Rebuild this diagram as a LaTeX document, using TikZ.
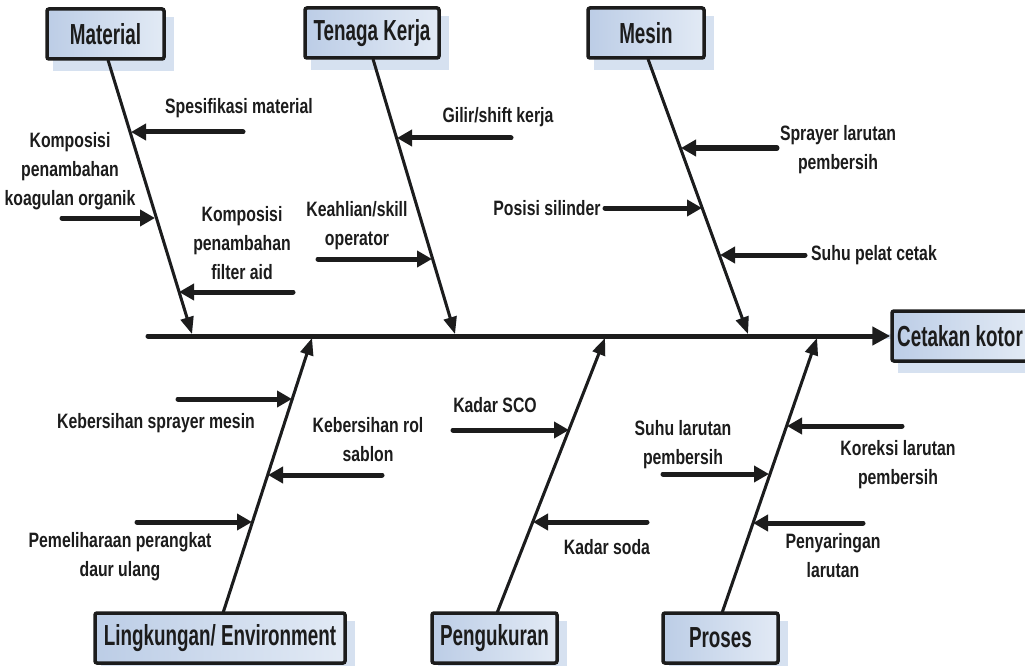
\documentclass[tikz,border=0pt]{standalone}
\usepackage{fontspec}
\setmainfont{Liberation Sans}[FakeStretch=0.76]
\newfontfamily\boxfont{Liberation Sans}[FakeStretch=0.65]
\usetikzlibrary{arrows.meta,backgrounds,calc}
\definecolor{shad}{RGB}{214,225,240}
\definecolor{boxA}{RGB}{188,205,230}
\definecolor{boxB}{RGB}{226,234,245}
\definecolor{ink}{RGB}{28,28,28}
\tikzset{
  lbl/.style={font=\fontsize{20.8}{29}\selectfont\bfseries, text=ink, align=center, inner sep=0pt},
  cat/.style={draw=ink, line width=3.5pt, rounded corners=2pt, left color=boxA, right color=boxB,
    font=\boxfont\fontsize{29}{30}\selectfont\bfseries, text=ink, inner sep=0pt, minimum height=50pt},
  bone/.style={draw=ink, line width=3pt, -{Triangle[length=17pt,width=13pt]}},
  spine/.style={draw=ink, line width=5pt, line cap=round, -{Triangle[length=18pt,width=18pt]}},
  sub/.style={draw=ink, line width=5pt, line cap=round, -{Triangle[length=15pt,width=16pt]}},
  bshd/.style={draw=shad, line width=3pt, -{Triangle[length=17pt,width=13pt]}},
  sshd/.style={draw=shad, line width=5pt, line cap=round}
}
\begin{document}
\begin{tikzpicture}[x=1pt,y=-1pt]
\useasboundingbox (0,0) rectangle (1025,666);

% category boxes
\node[cat, minimum width=117pt] (mat) at (105.5,34) {Material};
\node[cat, minimum width=134pt] (ten) at (372,33) {Tenaga Kerja};
\node[cat, minimum width=116pt] (mes) at (646,33) {Mesin};
\node[cat, minimum width=136pt] (cet) at (960,336) {Cetakan kotor};
\node[cat, minimum width=250pt] (lin) at (220,638) {Lingkungan/ Environment};
\node[cat, minimum width=125pt] (pen) at (494.5,638) {Pengukuran};
\node[cat, minimum width=115pt] (pro) at (720.5,638) {Proses};

% bone end points
\coordinate (matS) at (108,60);  \coordinate (matT) at (192,334);
\coordinate (tenS) at (373,59);  \coordinate (tenT) at (455,334);
\coordinate (mesS) at (648,59);  \coordinate (mesT) at (748,334);
\coordinate (linS) at (223,613); \coordinate (linT) at (312,338);
\coordinate (penS) at (497,613); \coordinate (penT) at (605,338);
\coordinate (proS) at (722,613); \coordinate (proT) at (817,338);
\coordinate (spS) at (148,336);

% background and shadows
\begin{scope}[on background layer]
  \fill[white] (0,0) rectangle (1025,666);
  \foreach \b in {mat,ten,mes,cet,lin,pen,pro}{
    \fill[shad] ($(\b.south west)+(8,10)$) rectangle ($(\b.north east)+(8,10)$);
  }
  \begin{scope}[shift={(6,11)}]
    \draw[sshd] (spS) -- (cet.west);
    \foreach \b in {mat,ten,mes,lin,pen,pro}{
      \draw[bshd] (\b S) -- (\b T);
    }
  \end{scope}
\end{scope}

% spine and bones
\draw[spine] (spS) -- (cet.west);
\foreach \b in {mat,ten,mes,lin,pen,pro}{
  \draw[bone] (\b S) -- (\b T);
}

% labels
\node[lbl] (t1) at (239,108) {Spesifikasi material};
\node[lbl] (t2) at (70,171) {Komposisi\\penambahan\\koagulan organik};
\node[lbl] (t3) at (242,243) {Komposisi\\penambahan\\filter aid};
\node[lbl] (t4) at (498,117) {Gilir/shift kerja};
\node[lbl] (t5) at (357,226) {Keahlian/skill\\operator};
\node[lbl] (t6) at (838,150) {Sprayer larutan\\pembersih};
\node[lbl] (t7) at (547,208) {Posisi silinder};
\node[lbl] (t8) at (874,255) {Suhu pelat cetak};
\node[lbl] (u1) at (156,423) {Kebersihan sprayer mesin};
\node[lbl] (u2) at (368,440) {Kebersihan rol\\sablon};
\node[lbl] (u3) at (120,557) {Pemeliharaan perangkat\\daur ulang};
\node[lbl] (u4) at (495,405) {Kadar SCO};
\node[lbl] (u5) at (607,547) {Kadar soda};
\node[lbl] (u6) at (898,465) {Koreksi larutan\\pembersih};
\node[lbl] (u7) at (683,445) {Suhu larutan\\pembersih};
\node[lbl] (u8) at (833,556) {Penyaringan\\larutan};

% cause arrows
\coordinate (a1s) at (243,132); \coordinate (a1t) at (131,132);
\coordinate (a2s) at (62,218);  \coordinate (a2t) at (155,218);
\coordinate (a3s) at (293,292); \coordinate (a3t) at (179,292);
\coordinate (a4s) at (511,138); \coordinate (a4t) at (397,138);
\coordinate (a5s) at (318,259); \coordinate (a5t) at (432,259);
\coordinate (a6s) at (777,148); \coordinate (a6t) at (681,148);
\coordinate (a7s) at (605,208); \coordinate (a7t) at (702,208);
\coordinate (a8s) at (805,255); \coordinate (a8t) at (720,255);
\coordinate (b1s) at (178,399); \coordinate (b1t) at (292,399);
\coordinate (b2s) at (382,475); \coordinate (b2t) at (268,475);
\coordinate (b3s) at (137,522); \coordinate (b3t) at (252,522);
\coordinate (b4s) at (453,430); \coordinate (b4t) at (569,430);
\coordinate (b5s) at (647,522); \coordinate (b5t) at (533,522);
\coordinate (b6s) at (902,426); \coordinate (b6t) at (787,426);
\coordinate (b7s) at (663,474); \coordinate (b7t) at (769,474);
\coordinate (b8s) at (863,523); \coordinate (b8t) at (753,523);
\foreach \a in {a1,a2,a3,a4,a5,a6,a7,a8,b1,b2,b3,b4,b5,b6,b7,b8}{
  \draw[sub] (\a s) -- (\a t);
}
\end{tikzpicture}
\end{document}
